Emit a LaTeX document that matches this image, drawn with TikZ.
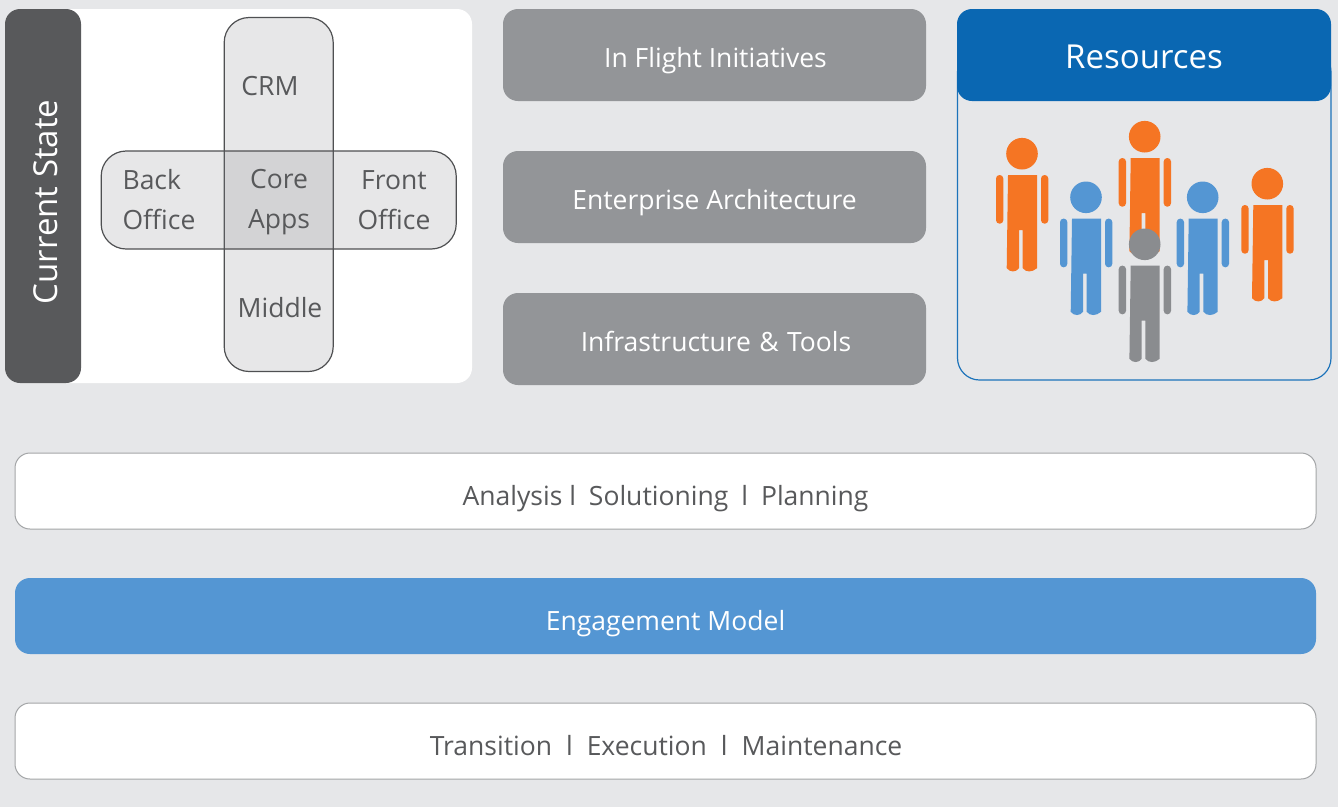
\documentclass[tikz,border=0pt]{standalone}
\usepackage{fontspec}
\setmainfont{Open Sans}
\definecolor{bgc}{HTML}{E6E7E9}
\definecolor{darkc}{HTML}{58595B}
\definecolor{midc}{HTML}{939598}
\definecolor{crossc}{HTML}{808288}
\definecolor{deepblue}{HTML}{0A67B2}
\definecolor{softblue}{HTML}{5496D3}
\definecolor{orangec}{HTML}{F57523}
\definecolor{greyc}{HTML}{8A8C8F}
\newcommand{\figperson}[3]{%
  \begin{scope}[shift={(#1,#2)}]
    \fill[#3] (0,0) circle (15.8);
    \fill[#3] (-14,21.3) -- (15,21.3) -- (15,114.5)
      .. controls (10,118.8) and (4,118.8) .. (0.7,114.5)
      -- (0.7,76.3) -- (-3,76.3) -- (-3,114.5)
      .. controls (-6,118.8) and (-12,118.8) .. (-15.3,114.5) -- cycle;
    \fill[#3, rounded corners=3.5] (-26,21.3) rectangle (-18.7,70);
    \fill[#3, rounded corners=3.5] (19,21.3) rectangle (26.3,70);
  \end{scope}}
\tikzset{
  panelbox/.style={rounded corners=15pt, inner sep=0pt, align=center},
  greybox/.style={panelbox, fill=midc, text=white, minimum width=423pt, minimum height=92pt, text height=24.6pt, text depth=0pt, font=\fontsize{26.5}{32}\selectfont},
  barbox/.style={panelbox, fill=white, draw=midc!85, line width=1pt, text=darkc, minimum width=1301pt, minimum height=76pt, text height=28pt, text depth=0pt, font=\fontsize{26.5}{32}\selectfont},
  crossbox/.style={rounded corners=25pt, inner sep=0pt, fill=crossc, fill opacity=.19, draw=darkc!90!black, draw opacity=1, line width=1.2pt},
  crosslabel/.style={text=darkc, inner sep=0pt, align=center, font=\fontsize{26.5}{40}\selectfont},
}
\begin{document}
\begin{tikzpicture}[x=1pt,y=-1pt]
\useasboundingbox (0,0) rectangle (1338,807);
\fill[bgc] (0,0) rectangle (1338,807);
% Current state
\node[panelbox, fill=white, minimum width=467pt, minimum height=374pt] (statepanel) at (238.5,196) {};
\node[panelbox, fill=darkc, minimum width=76pt, minimum height=374pt] (statehead) at (43,196) {};
\node[text=white, inner sep=0pt, rotate=90, font=\fontsize{33}{40}\selectfont] (statelabel) at (46,202) {Current State};
\node[crossbox, minimum width=109pt, minimum height=354pt] (vbar) at (278.7,194.5) {};
\node[crossbox, minimum width=355pt, minimum height=98pt] (hbar) at (278.7,200) {};
\node[crosslabel] (crm) at (270,86) {CRM};
\node[crosslabel, align=left] (back) at (159,200) {Back\\Office};
\node[crosslabel] (core) at (279,202) {Core\\Apps};
\node[crosslabel] (front) at (394,200) {Front\\Office};
\node[crosslabel] (middle) at (280,307.5) {Middle};
% Middle column
\node[greybox, text height=25.6pt] (flight) at (714.5,55) {\hspace*{2pt}In Flight Initiatives};
\node[greybox] (arch) at (714.5,197) {Enterprise Architecture};
\node[greybox] (infra) at (714.5,339) {\hspace*{3pt}Infrastructure\kern1.5pt\ \&\kern1.5pt\ Tools};
% Resources
\draw[rounded corners=22pt, fill=bgc, draw=deepblue!75!softblue, line width=1.2pt] (957.5,50) rectangle (1331,380);
\node[panelbox, fill=deepblue, text=white, minimum width=374pt, minimum height=92pt, text height=27pt, text depth=0pt, font=\fontsize{33}{38}\selectfont] (res) at (1144,55) {Resources};
\figperson{1022}{153.7}{orangec}
\figperson{1144.7}{136.7}{orangec}
\figperson{1267.3}{183.7}{orangec}
\figperson{1086}{197.3}{softblue}
\figperson{1202.7}{197.3}{softblue}
\figperson{1144.7}{244.3}{greyc}
% Bars
\node[barbox] (analysis) at (665.5,491) {Analysis l\hspace{13pt}Solutioning\hspace{13pt}l\hspace{13pt}Planning};
\node[panelbox, fill=softblue, text=white, minimum width=1301pt, minimum height=76pt, text height=28pt, text depth=0pt, font=\fontsize{26.5}{32}\selectfont] (engage) at (665.5,616) {Engagement Model};
\node[barbox] (transition) at (665.5,741) {\hspace*{1pt}Transition\hspace{14pt}l\hspace{14pt}Execution\hspace{14pt}l\hspace{14pt}Maintenance};
\end{tikzpicture}
\end{document}
